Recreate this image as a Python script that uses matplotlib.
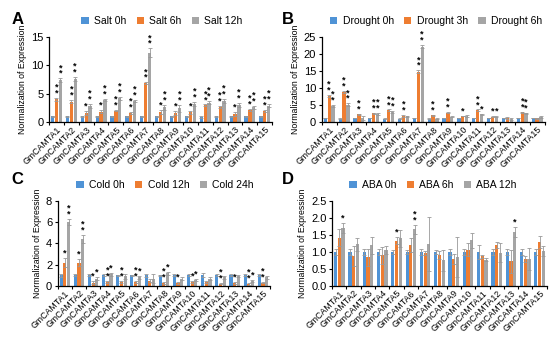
import numpy as np
import matplotlib.pyplot as plt

plt.rcParams['font.family'] = ['Liberation Sans', 'DejaVu Sans']

genes = ['GmCAMTA%d' % i for i in range(1, 16)]

# A: salt
salt_labels = ['Salt 0h', 'Salt 6h', 'Salt 12h']
salt_0h = [1.0, 1.0, 1.0, 1.0, 1.0, 1.0, 1.0, 1.0, 1.0, 1.0, 0.9, 1.0, 1.0, 1.0, 1.0]
salt_6h = [4.0, 3.6, 1.6, 1.8, 2.0, 1.6, 6.9, 1.8, 1.6, 1.7, 3.0, 2.6, 1.4, 2.1, 2.0]
salt_12h = [7.4, 7.6, 2.8, 3.9, 4.2, 3.7, 12.2, 2.6, 2.4, 3.2, 3.4, 3.8, 3.0, 2.6, 2.9]
salt_0h_err = [0.15] * 15
salt_6h_err = [0.3, 0.3, 0.35, 0.25, 0.1, 0.25, 0.1, 0.3, 0.3, 0.3, 0.1, 0.2, 0.3, 0.15, 0.2]
salt_12h_err = [0.3, 0.3, 0.35, 0.2, 0.3, 0.2, 0.8, 0.4, 0.6, 0.3, 0.3, 0.35, 0.4, 0.3, 0.3]
salt_6h_sig = [2, 2, 1, 1, 2, 2, 2, 1, 1, 1, 2, 2, 1, 2, 2]
salt_12h_sig = [2] * 15

# B: drought
drought_labels = ['Drought 0h', 'Drought 3h', 'Drought 6h']
drought_0h = [1.2, 1.0, 1.2, 1.2, 1.0, 1.0, 1.2, 1.0, 1.2, 1.2, 1.2, 1.2, 1.2, 1.2, 1.2]
drought_3h = [7.8, 8.8, 2.3, 2.6, 3.5, 1.8, 14.8, 2.0, 2.8, 1.8, 3.5, 1.6, 1.2, 2.9, 1.1]
drought_6h = [4.8, 5.1, 1.3, 2.4, 3.0, 1.7, 22.2, 1.0, 1.6, 1.9, 2.3, 1.6, 0.8, 2.6, 1.5]
drought_0h_err = [0.1] * 15
drought_3h_err = [0.3, 0.3, 0.2, 0.2, 0.2, 0.2, 0.4, 0.2, 0.2, 0.1, 0.2, 0.1, 0.2, 0.2, 0.1]
drought_6h_err = [0.3, 0.4, 0.6, 0.3, 0.2, 0.2, 0.5, 0.1, 0.2, 0.3, 0.2, 0.1, 0.3, 0.2, 0.2]
drought_3h_sig = [2, 2, 2, 2, 2, 2, 2, 2, 2, 1, 2, 1, 0, 2, 0]
drought_6h_sig = [2, 2, 0, 2, 2, 0, 2, 0, 0, 0, 1, 1, 0, 2, 0]

# C: cold
cold_labels = ['Cold 0h', 'Cold 12h', 'Cold 24h']
cold_0h = [1.0, 1.0, 1.0, 1.0, 1.0, 1.0, 1.0, 1.0, 1.0, 1.0, 1.0, 1.0, 1.0, 1.0, 1.0]
cold_12h = [2.2, 2.2, 0.3, 0.4, 0.4, 0.35, 0.5, 0.3, 0.3, 0.4, 0.4, 0.2, 0.3, 0.2, 0.3]
cold_24h = [6.0, 4.4, 0.7, 1.1, 0.9, 0.8, 0.7, 1.2, 0.7, 0.6, 0.7, 0.8, 0.9, 0.5, 0.8]
cold_0h_err = [0.12, 0.1, 0.1, 0.1, 0.05, 0.05, 0.15, 0.05, 0.1, 0.1, 0.2, 0.1, 0.1, 0.1, 0.1]
cold_12h_err = [0.4, 0.35, 0.15, 0.1, 0.1, 0.1, 0.15, 0.1, 0.1, 0.1, 0.1, 0.05, 0.1, 0.1, 0.05]
cold_24h_err = [0.3, 0.4, 0.1, 0.15, 0.2, 0.1, 0.4, 0.15, 0.1, 0.1, 0.1, 0.1, 0.1, 0.1, 0.1]
cold_12h_sig = [1, 1, 1, 2, 2, 2, 0, 2, 1, 1, 0, 2, 1, 2, 2]
cold_24h_sig = [2, 2, 1, 1, 0, 1, 0, 1, 0, 1, 0, 0, 0, 1, 0]

# D: ABA
aba_labels = ['ABA 0h', 'ABA 6h', 'ABA 12h']
aba_0h = [1.0] * 15
aba_6h = [1.42, 0.88, 0.84, 0.9, 1.33, 1.2, 0.97, 0.92, 0.8, 1.07, 0.87, 1.2, 0.72, 0.79, 1.3]
aba_12h = [1.7, 1.22, 1.2, 1.05, 1.4, 1.67, 1.23, 0.75, 0.85, 1.35, 0.77, 0.98, 1.58, 0.8, 1.03]
aba_0h_err = [0.1, 0.08, 0.08, 0.08, 0.05, 0.05, 0.1, 0.05, 0.1, 0.1, 0.2, 0.1, 0.1, 0.1, 0.08]
aba_6h_err = [0.25, 0.3, 0.25, 0.25, 0.1, 0.2, 0.05, 0.12, 0.15, 0.2, 0.05, 0.08, 0.35, 0.1, 0.18]
aba_12h_err = [0.15, 0.18, 0.25, 0.12, 0.25, 0.13, 0.8, 0.3, 0.58, 0.22, 0.05, 0.28, 0.15, 0.33, 0.15]
aba_6h_sig = [0, 0, 0, 0, 1, 0, 0, 0, 0, 0, 0, 0, 0, 0, 0]
aba_12h_sig = [1, 0, 0, 0, 0, 2, 0, 0, 0, 0, 0, 0, 1, 0, 0]

colors = ['#4f93d6', '#ee7d31', '#a5a5a5']

panels = [
    ('A', [0.089, 0.641, 0.406, 0.25], salt_labels,
     [salt_0h, salt_6h, salt_12h], [salt_0h_err, salt_6h_err, salt_12h_err],
     [None, salt_6h_sig, salt_12h_sig], 15, 5, (162, 21), (12, 20)),
    ('B', [0.585, 0.641, 0.405, 0.25], drought_labels,
     [drought_0h, drought_3h, drought_6h], [drought_0h_err, drought_3h_err, drought_6h_err],
     [None, drought_3h_sig, drought_6h_sig], 25, 5, (436, 21), (282, 20)),
    ('C', [0.105, 0.159, 0.386, 0.25], cold_labels,
     [cold_0h, cold_12h, cold_24h], [cold_0h_err, cold_12h_err, cold_24h_err],
     [None, cold_12h_sig, cold_24h_sig], 8, 2, (165, 185), (11, 180)),
    ('D', [0.604, 0.159, 0.39, 0.25], aba_labels,
     [aba_0h, aba_6h, aba_12h], [aba_0h_err, aba_6h_err, aba_12h_err],
     [None, aba_6h_sig, aba_12h_sig], 2.5, 0.5, (433, 185), (282, 180)),
]

fig = plt.figure(figsize=(5.5, 3.4), dpi=100)
x = np.arange(len(genes))
w = 0.22
offs = [-0.26, 0, 0.26]

for letter, rect, labels, series, errs, sigs, ymax, ystep, legpos, letpos in panels:
    ax = fig.add_axes(rect)
    handles = []
    for k in range(3):
        b = ax.bar(x + offs[k], series[k], w, color=colors[k], label=labels[k],
                   yerr=errs[k], error_kw=dict(ecolor='#999999', elinewidth=0.6, capsize=1.2, capthick=0.6))
        handles.append(b)
        if sigs[k] is not None:
            for i in range(len(genes)):
                n = sigs[k][i]
                if n == 0:
                    continue
                top = series[k][i] + errs[k][i] + ymax * 0.005
                ax.text(x[i] + offs[k], top, '\n'.join(['*'] * n), ha='center', va='bottom',
                        fontsize=6.5, fontweight='bold', linespacing=0.55)
    ax.set_xlim(-0.5, len(genes) - 0.5)
    ax.set_ylim(0, ymax)
    ax.set_yticks(np.arange(0, ymax + ystep / 2, ystep))
    if ystep < 1:
        ax.set_yticklabels(['%.1f' % v for v in np.arange(0, ymax + ystep / 2, ystep)])
    ax.tick_params(axis='y', labelsize=8, length=2.5, width=0.8, pad=1.5)
    ax.set_xticks(x)
    ax.set_xticklabels(genes, rotation=45, ha='right', rotation_mode='anchor', fontsize=6.3)
    ax.tick_params(axis='x', length=0, pad=2)
    ax.set_xticks(np.arange(-0.5, len(genes)), minor=True)
    ax.tick_params(axis='x', which='minor', length=2.5, width=0.8)
    for s in ['top', 'right']:
        ax.spines[s].set_visible(False)
    ax.spines['left'].set_linewidth(0.9)
    ax.spines['bottom'].set_linewidth(0.9)
    ax.set_ylabel('Normalization of Expression', fontsize=6.3, labelpad=3)
    fig.legend(handles=handles, loc='center', bbox_to_anchor=(legpos[0] / 550, 1 - legpos[1] / 340),
               ncol=3, frameon=False, fontsize=7.5, handlelength=0.7, handleheight=0.7,
               handletextpad=0.5, columnspacing=1.0, borderaxespad=0)
    fig.text(letpos[0] / 550, 1 - letpos[1] / 340, letter, fontsize=12, fontweight='bold',
             ha='left', va='center')

fig.savefig('out.png', dpi=100)
